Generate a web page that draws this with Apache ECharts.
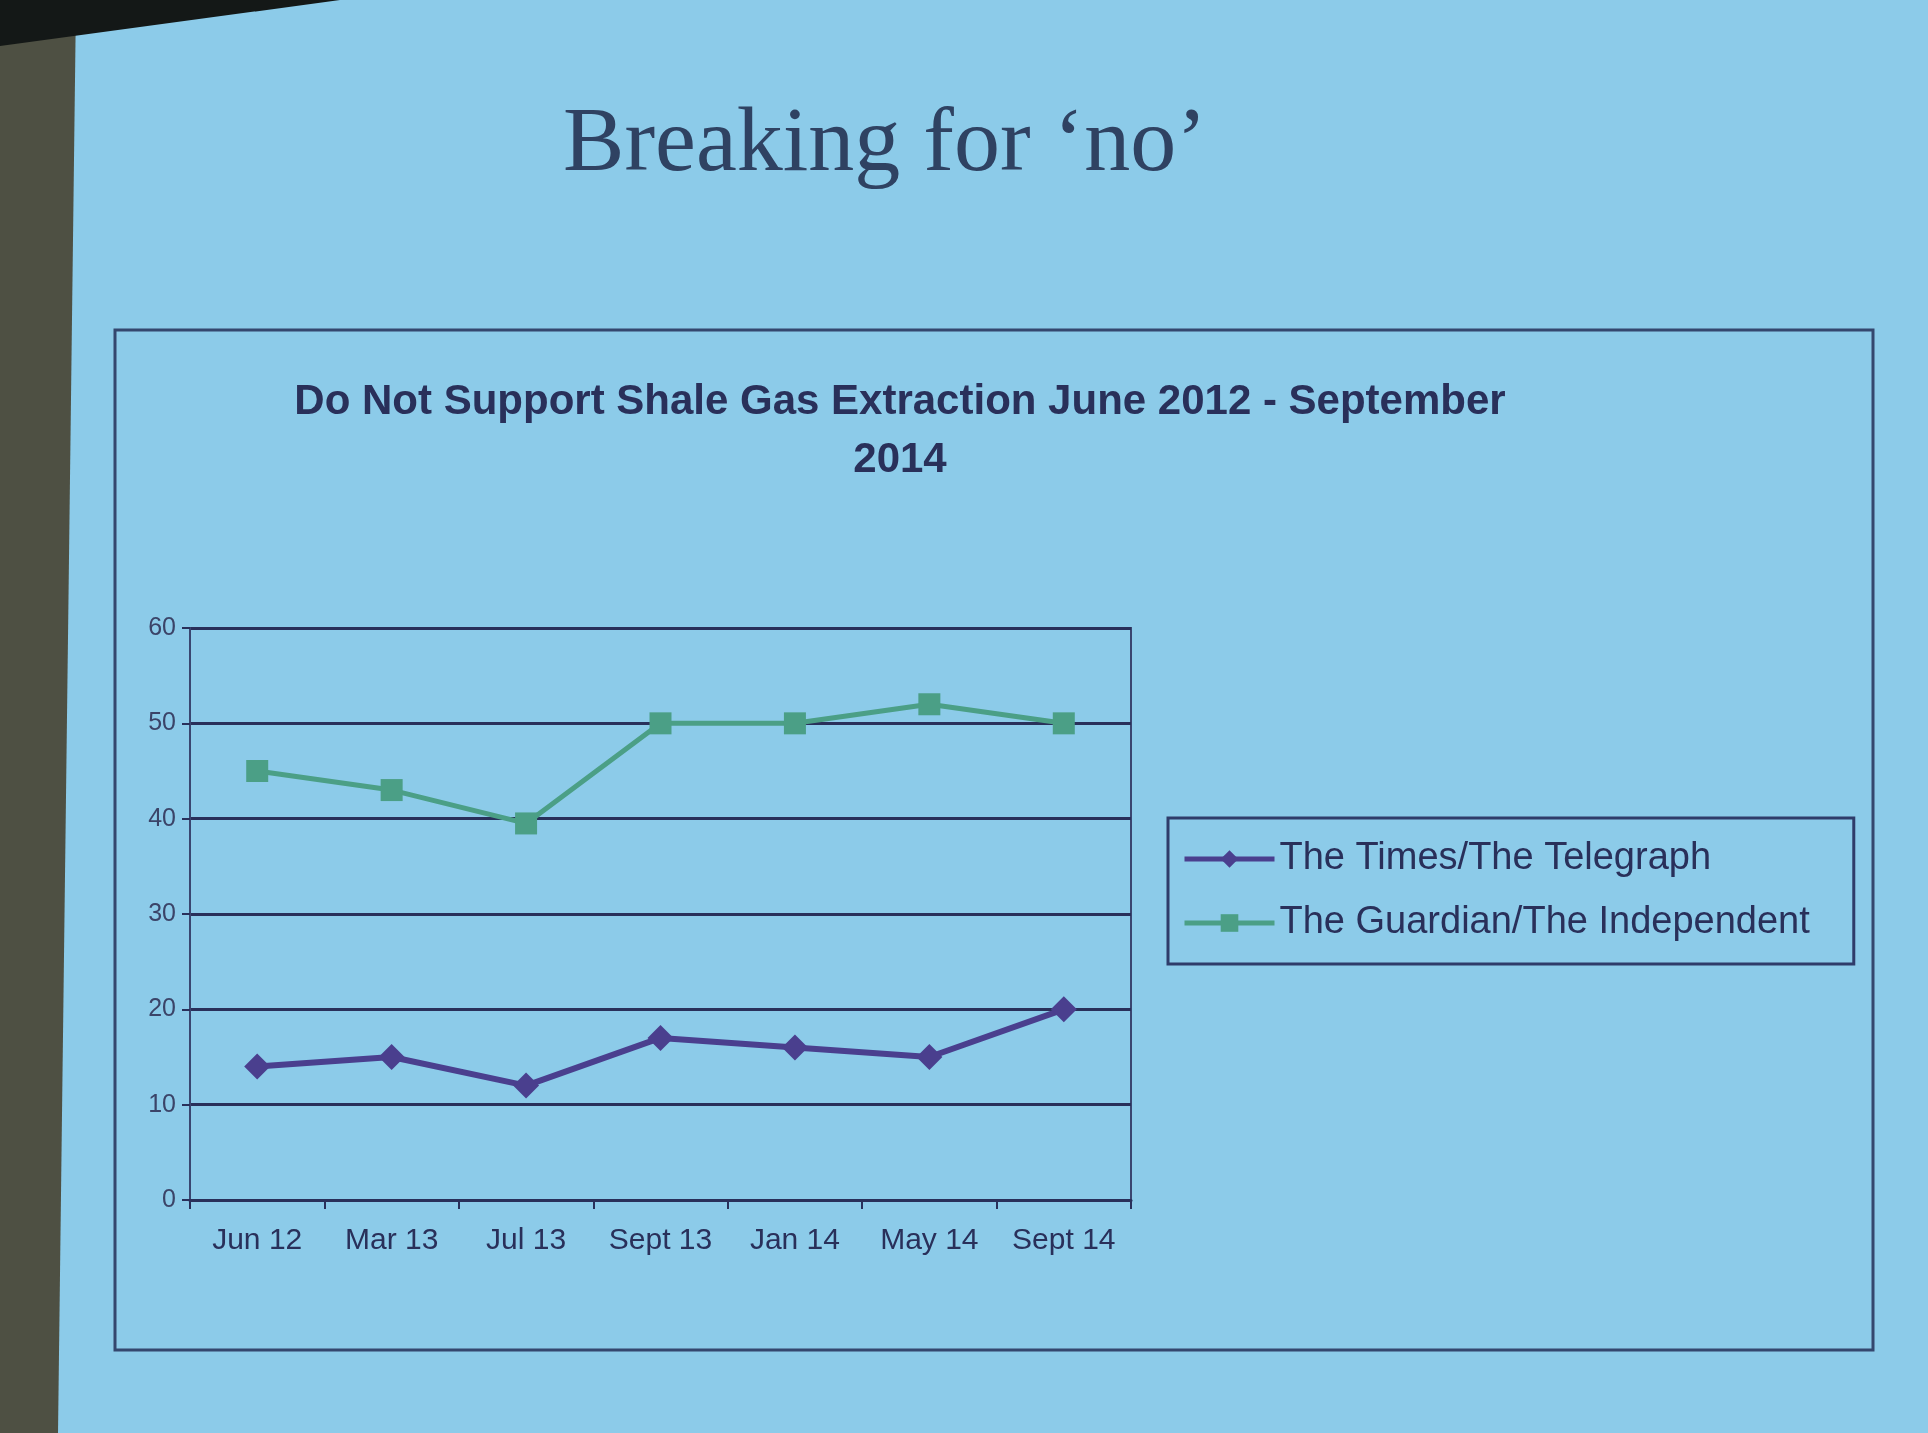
<!DOCTYPE html>
<html>
<head>
<meta charset="utf-8">
<script src="https://cdn.jsdelivr.net/npm/echarts@6/dist/echarts.min.js"></script>
<style>
html,body{margin:0;padding:0;width:1928px;height:1433px;overflow:hidden;background:#8ccbe9;}
#strip{position:absolute;left:0;top:0;width:76px;height:1433px;background:#4e5043;clip-path:polygon(0 0,76px 0,58px 1433px,0 1433px);}
#topbar{position:absolute;left:0;top:0;width:400px;height:60px;background:#141817;clip-path:polygon(0 0,340px 0,0 46px);}
#chart{position:absolute;left:0;top:0;width:1928px;height:1433px;}
</style>
</head>
<body>
<div id="strip"></div>
<div id="topbar"></div>
<div id="chart"></div>
<script>
const categories = ['Jun 12', 'Mar 13', 'Jul 13', 'Sept 13', 'Jan 14', 'May 14', 'Sept 14'];
const timesTelegraph = [14, 15, 12, 17, 16, 15, 20];
const guardianIndependent = [45, 43, 39.5, 50, 50, 52, 50];
const yTicks = [0, 10, 20, 30, 40, 50, 60];
const seriesNames = ['The Times/The Telegraph', 'The Guardian/The Independent'];

const navy = '#29305a';
const narrow = '"Liberation Sans Narrow", "Arial Narrow", "Liberation Sans", sans-serif';

const chart = echarts.init(document.getElementById('chart'), null, {renderer: 'canvas'});
chart.setOption({
  backgroundColor: 'transparent',
  animation: false,
  graphic: [
    {type: 'rect', shape: {x: 115, y: 330, width: 1758, height: 1020},
     style: {fill: 'transparent', stroke: '#34476e', lineWidth: 3}, z: -1}
  ],
  title: [
    {text: 'Breaking for \u2018no\u2019', left: 880, top: 95, textAlign: 'center',
     textStyle: {fontFamily: '"Liberation Serif", "DejaVu Serif", serif', fontSize: 92, fontWeight: 'normal', color: '#2f4262'}},
    {text: 'Do Not Support Shale Gas Extraction June 2012 - September\n2014', left: 895, top: 368, textAlign: 'center',
     textStyle: {fontFamily: '"Liberation Sans", Arial, sans-serif', fontSize: 42, fontWeight: 'bold', color: navy, lineHeight: 58}}
  ],
  legend: {
    orient: 'vertical', left: 1168, top: 818, width: 686,
    padding: [22, 44, 22, 14], itemGap: 26,
    borderColor: '#2f3c6a', borderWidth: 3,
    itemWidth: 90, itemHeight: 22,
    lineStyle: {width: 5},
    textStyle: {fontFamily: narrow, fontSize: 38, color: navy},
    data: seriesNames
  },
  grid: {left: 190, top: 628, width: 941, height: 572, show: true, borderColor: '#3a4670', borderWidth: 2, backgroundColor: 'transparent'},
  xAxis: {
    type: 'category', data: categories, boundaryGap: true,
    axisLine: {lineStyle: {color: navy, width: 3}},
    axisTick: {show: true, interval: 0, length: 9, lineStyle: {color: navy, width: 2}},
    axisLabel: {interval: 0, fontFamily: narrow, fontSize: 30, color: navy, margin: 26}
  },
  yAxis: {
    type: 'value', min: 0, max: 60, interval: 10,
    axisLine: {show: true, lineStyle: {color: '#3a4670', width: 2}},
    axisTick: {show: true, length: 8, lineStyle: {color: navy, width: 2}},
    splitLine: {lineStyle: {color: navy, width: 3}},
    axisLabel: {fontFamily: narrow, fontSize: 25, color: '#3b4468', margin: 14,
      formatter: v => yTicks.includes(v) ? String(v) : ''}
  },
  series: [
    {name: seriesNames[0], type: 'line', data: timesTelegraph,
     symbol: 'diamond', symbolSize: 26,
     lineStyle: {color: '#4a3f8e', width: 6},
     itemStyle: {color: '#4a3f8e'}},
    {name: seriesNames[1], type: 'line', data: guardianIndependent,
     symbol: 'rect', symbolSize: 22,
     lineStyle: {color: '#4b9f86', width: 5},
     itemStyle: {color: '#4b9f86'}}
  ]
});
</script>
</body>
</html>
